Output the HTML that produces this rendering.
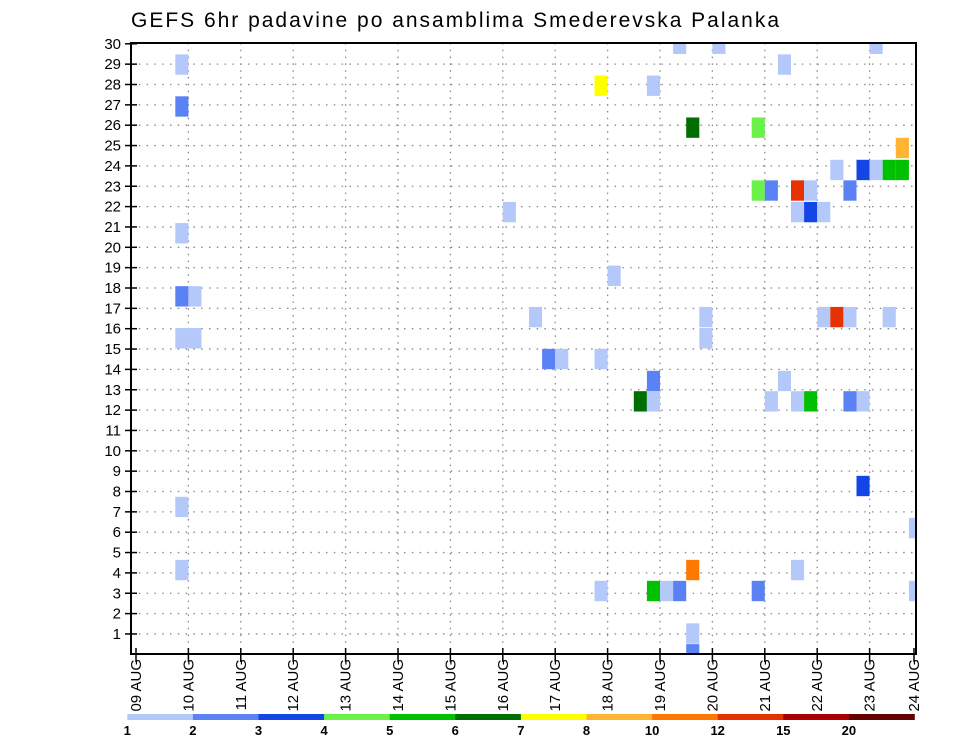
<!DOCTYPE html>
<html><head><meta charset="utf-8">
<style>
html,body{margin:0;padding:0;background:#fff;}
svg{display:block;font-family:"Liberation Sans",sans-serif;}
</style></head>
<body>
<svg id="chart" width="960" height="742" viewBox="0 0 960 742" xmlns="http://www.w3.org/2000/svg">
<text x="131" y="27" font-size="21" textLength="648" lengthAdjust="spacing" fill="#000">GEFS 6hr padavine po ansamblima Smederevska Palanka</text>
<g id="grid"></g>
<g id="cells"></g>
<rect x="131" y="43" width="785" height="611" fill="none" stroke="#000" stroke-width="2"/>
<g id="axes"></g>
<g id="legend"></g>
</svg>
<script>
// ---- data ----
const dayLabels = ["09 AUG","10 AUG","11 AUG","12 AUG","13 AUG","14 AUG","15 AUG","16 AUG","17 AUG","18 AUG","19 AUG","20 AUG","21 AUG","22 AUG","23 AUG","24 AUG"];
const memberTicks = [1,2,3,4,5,6,7,8,9,10,11,12,13,14,15,16,17,18,19,20,21,22,23,24,25,26,27,28,29,30];
const levels = [1,2,3,4,5,6,7,8,10,12,15,20];
const levelColors = ["#b4c8fa","#5a82f5","#1446e6","#6cf04a","#00c000","#006e00","#ffff00","#ffb432","#ff7800","#e63200","#aa0000","#640000"];
// cells: 6-hourly step index (from 09 AUG 00), member position, precip (mm)
const cellStep = [42,45,57, 4,50, 36,40, 4, 43,48, 59, 54,56,57,58,59, 48,49,51,52,55, 29,51,52,53, 4, 37, 4,5, 31,44,53,54,55,58, 4,5,44, 32,33,36, 40,50, 39,40,49,51,52,55,56, 56, 4, 60, 4,43,51, 36,40,41,42,48,60, 43,43];
const cellMember = [30.0,30.0,30.0, 28.98,28.98, 27.94,27.94, 26.92, 25.88,25.88, 24.88, 23.8,23.8,23.8,23.8,23.8, 22.79,22.79,22.79,22.79,22.79, 21.73,21.73,21.73,21.73, 20.69, 18.6, 17.59,17.59, 16.57,16.57,16.57,16.57,16.57,16.57, 15.53,15.53,15.53, 14.51,14.51,14.51, 13.43,13.43, 12.43,12.43,12.43,12.43,12.43,12.43,12.43, 8.27, 7.24, 6.2, 4.14,4.14,4.14, 3.11,3.11,3.11,3.11,3.11,3.11, 1.02,0.0];
const cellValue = [1.5,1.5,1.5, 1.5,1.5, 7.5,1.5, 2.5, 6.5,4.5, 9, 1.5,3.5,1.5,5.5,5.5, 4.5,2.5,13,1.5,2.5, 1.5,1.5,3.5,1.5, 1.5, 1.5, 2.5,1.5, 1.5,1.5,1.5,13,1.5,1.5, 1.5,1.5,1.5, 2.5,1.5,1.5, 2.5,1.5, 6.5,1.5,1.5,1.5,5.5,2.5,1.5, 3.5, 1.5, 1.5, 1.5,11,1.5, 1.5,5.5,1.5,2.5,2.5,1.5, 1.5,2.5];

// ---- scales ----
const X0=136, DAY=52.4, STEP=DAY/4;
const Y0=654.3, ROW=20.35;
const xDay = d => X0 + d*DAY;
const xStep = s => X0 + s*STEP;
const yMem = m => Y0 - m*ROW;
const NS="http://www.w3.org/2000/svg";
function mk(tag, parent, attrs){const e=document.createElementNS(NS,tag);for(const k in attrs)e.setAttribute(k,attrs[k]);parent.appendChild(e);return e;}
function colorFor(v){let c=levelColors[0];for(let i=0;i<levels.length;i++){if(v>=levels[i])c=levelColors[i];}return c;}

const svg=document.getElementById('chart');
const defs=mk('defs',svg,{});
const cp=mk('clipPath',defs,{id:'plotclip'});
mk('rect',cp,{x:131,y:43,width:785,height:611});

// grid
const grid=document.getElementById('grid');
memberTicks.forEach(m=>{
  if(m>=30) return;
  const l=mk('line',grid,{x1:131,x2:916,y1:yMem(m),y2:yMem(m),stroke:'#888','stroke-width':1.3,'stroke-dasharray':'1.5,6.3'});
  
  
});
dayLabels.forEach((d,i)=>{
  if(i===0||xDay(i)>915) return;
  const l=mk('line',grid,{x1:xDay(i),x2:xDay(i),y1:43,y2:654,stroke:'#888','stroke-width':1.3,'stroke-dasharray':'1.5,5.3'});
  
  
});

// cells
const cells=document.getElementById('cells');
cells.setAttribute('clip-path','url(#plotclip)');
cellStep.forEach((s,i)=>{
  const x=xStep(s-1), y=yMem(cellMember[i])-ROW/2;
  const r=mk('rect',cells,{x:x,y:y,width:STEP,height:ROW,fill:colorFor(cellValue[i])});
  
  
});

// axes ticks & labels
const axes=document.getElementById('axes');
memberTicks.forEach(m=>{
  const y=yMem(m);
  mk('line',axes,{x1:125,x2:137,y1:y,y2:y,stroke:'#000','stroke-width':1.5});
  const t=mk('text',axes,{x:121,y:y+5,'font-size':15,'text-anchor':'end',fill:'#000'});
  t.textContent=m;
  
  
});
dayLabels.forEach((d,i)=>{
  const x=Math.min(xDay(i),914);
  mk('line',axes,{x1:x,x2:x,y1:648,y2:662,stroke:'#000','stroke-width':1.5});
  const t=mk('text',axes,{x:0,y:0,'font-size':15,'text-anchor':'end',fill:'#000',transform:'translate('+(x+5)+',659) rotate(-90)'});
  t.textContent=d;
  
  
});

// legend
const legend=document.getElementById('legend');
const LX=127.3, LW=65.6;
levelColors.forEach((c,i)=>{
  const r=mk('rect',legend,{x:LX+i*LW,y:714,width:LW+0.3,height:6,fill:c});
  
  
});
levels.forEach((v,i)=>{
  const t=mk('text',legend,{x:LX+i*LW,y:735,'font-size':13,'font-weight':'bold','text-anchor':'middle',fill:'#000'});
  t.textContent=v;
  
  
});
</script>
</body></html>
